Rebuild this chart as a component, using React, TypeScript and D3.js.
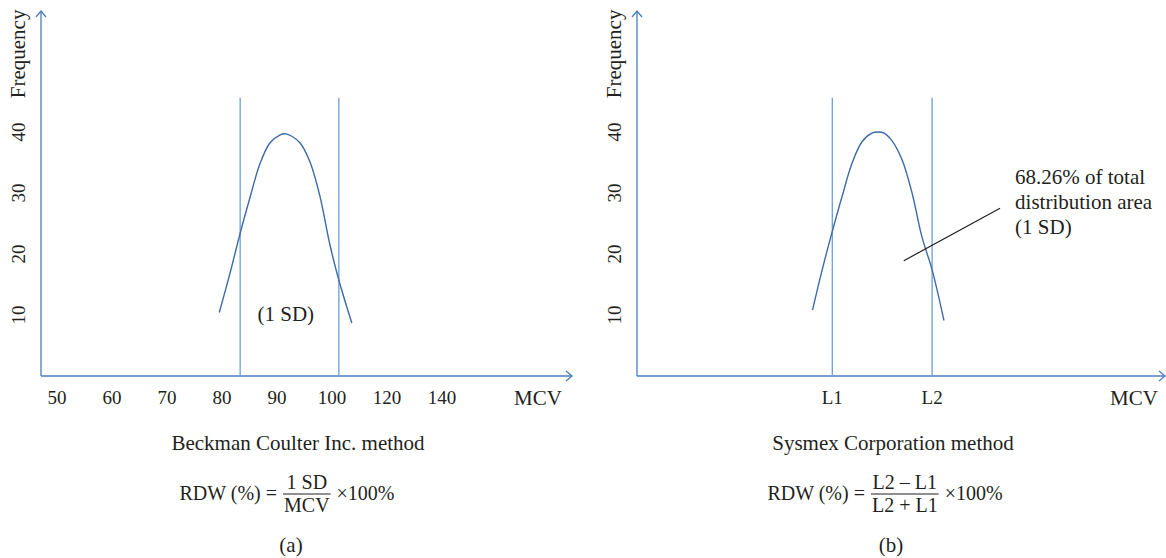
import React, { useEffect, useRef } from "react";
import * as d3 from "d3";

// MCV tick labels of the left panel (unevenly spaced values, evenly spaced on the axis)
const xTickValues = [50, 60, 70, 80, 90, 100, 120, 140];
const yTickValues = [10, 20, 30, 40];

// (a) Beckman Coulter curve, MCV vs frequency
const curveAMcv = [79.5, 81.5, 83.3, 85.1, 86.9, 88.7, 90.5, 91.6, 92.7, 94.2, 96.0, 97.8, 99.6, 102.5, 107.2];
const curveAFreq = [10.4, 17.0, 23.4, 29.3, 34.8, 38.2, 39.5, 39.7, 39.3, 38.2, 35.1, 29.5, 21.6, 15.7, 8.7];
const sdLinesA = [83.3, 102.5];

// (b) Sysmex curve
const curveBMcv = [79.0, 80.7, 82.6, 84.4, 86.2, 88.0, 89.8, 90.9, 92.0, 93.5, 95.3, 97.1, 98.9, 101.5, 105.8];
const curveBFreq = [10.8, 17.2, 23.7, 29.5, 34.9, 38.4, 39.8, 40.0, 39.8, 38.5, 35.4, 30.0, 22.8, 17.4, 9.1];
const limitLinesB = [82.6, 101.5];
const limitLabelsB = ["L1", "L2"];
const pointerB = [[95.6, 18.9], [126.2, 27.5]];
const pointerText = ["68.26% of total", "distribution area", "(1 SD)"];

const lineTop = 45.6;
const FONT = '"Liberation Serif", "Times New Roman", serif';
const INK = "#231f20";
const AXIS = "#4a7ebb";
const VLINE = "#6b9fd6";
const CURVE = "#3d6ba6";

function drawFormula(g: any, cx: number, y: number, num: string, den: string) {
    const f = g.append("g").style("font-family", FONT).style("font-size", "20px").attr("fill", INK);
    const lhs = f.append("text").attr("x", 0).attr("y", y).text("RDW (%) =");
    const lw = (lhs.node() as SVGTextElement).getComputedTextLength();
    const n = f.append("text").attr("y", y - 11).attr("text-anchor", "middle").text(num);
    const d = f.append("text").attr("y", y + 12).attr("text-anchor", "middle").text(den);
    const fw = Math.max((n.node() as SVGTextElement).getComputedTextLength(),
        (d.node() as SVGTextElement).getComputedTextLength()) + 2;
    const fx = lw + 6;
    n.attr("x", fx + fw / 2);
    d.attr("x", fx + fw / 2);
    f.append("line").attr("x1", fx).attr("x2", fx + fw).attr("y1", y - 6).attr("y2", y - 6)
        .attr("stroke", INK).attr("stroke-width", 1);
    const rhs = f.append("text").attr("x", fx + fw + 6).attr("y", y).text("\u00d7100%");
    const total = fx + fw + 6 + (rhs.node() as SVGTextElement).getComputedTextLength();
    f.attr("transform", `translate(${cx - total / 2},0)`);
}

function drawPanel(svg: any, ox: number, opts: any) {
    const g = svg.append("g").attr("transform", `translate(${ox},0)`);
    const axisLen = opts.axisLen;

    const x = d3.scaleLinear()
        .domain(xTickValues)
        .range(xTickValues.map((_, i) => 16 + i * 55));
    const y = d3.scaleLinear().domain([0, 40]).range([376, 132]);

    // axes with open arrow heads
    g.append("line").attr("x1", 0).attr("x2", 0).attr("y1", 376).attr("y2", 11)
        .attr("stroke", AXIS).attr("stroke-width", 1.3);
    g.append("path").attr("d", "M-5,17 L0,11 L5,17").attr("fill", "none")
        .attr("stroke", AXIS).attr("stroke-width", 1.3);
    g.append("line").attr("x1", 0).attr("x2", axisLen).attr("y1", 376).attr("y2", 376)
        .attr("stroke", AXIS).attr("stroke-width", 1.3);
    g.append("path").attr("d", `M${axisLen - 6},371 L${axisLen},376 L${axisLen - 6},381`)
        .attr("fill", "none").attr("stroke", AXIS).attr("stroke-width", 1.3);

    const ticks = g.append("g").style("font-family", FONT).style("font-size", "19px").attr("fill", INK);
    const txt = g.append("g").style("font-family", FONT).style("font-size", "21px").attr("fill", INK);

    // y ticks, rotated
    yTickValues.forEach(v => {
        ticks.append("text")
            .attr("transform", `translate(-23,${y(v)}) rotate(-90)`)
            .attr("text-anchor", "middle")
            .attr("dy", "0.35em")
            .text(v);
    });
    txt.append("text")
        .attr("transform", `translate(-23,${y(52.8)}) rotate(-90)`)
        .attr("text-anchor", "middle")
        .attr("dy", "0.35em")
        .text("Frequency");

    // x labels
    opts.xLabels.forEach((d: any) => {
        ticks.append("text").attr("x", x(d.v)).attr("y", 404).attr("text-anchor", "middle").text(d.label);
    });
    txt.append("text").attr("x", 497).attr("y", 405).attr("text-anchor", "middle").text("MCV");

    // vertical lines
    g.selectAll(".vline").data(opts.vlines).enter().append("line")
        .attr("x1", (d: number) => x(d)).attr("x2", (d: number) => x(d))
        .attr("y1", y(lineTop)).attr("y2", 376)
        .attr("stroke", VLINE).attr("stroke-width", 1.3);

    // the curve
    const pts = opts.mcv.map((m: number, i: number) => [x(m), y(opts.freq[i])]);
    g.append("path")
        .attr("d", d3.line().curve(d3.curveCatmullRom.alpha(0.5))(pts))
        .attr("fill", "none").attr("stroke", CURVE).attr("stroke-width", 1.4);

    return { g, x, y, txt };
}

export default function App() {
    const ref = useRef<SVGSVGElement>(null);

    useEffect(() => {
        const svg = d3.select(ref.current);
        svg.selectAll("*").remove();

        // panel (a)
        const a = drawPanel(svg, 41, {
            axisLen: 531,
            xLabels: xTickValues.map(v => ({ v, label: String(v) })),
            vlines: sdLinesA,
            mcv: curveAMcv,
            freq: curveAFreq
        });
        a.txt.append("text").attr("x", a.x(91.6)).attr("y", 321).attr("text-anchor", "middle").text("(1 SD)");

        // panel (b)
        const b = drawPanel(svg, 637, {
            axisLen: 528,
            xLabels: limitLinesB.map((v, i) => ({ v, label: limitLabelsB[i] })),
            vlines: limitLinesB,
            mcv: curveBMcv,
            freq: curveBFreq
        });
        b.g.append("line")
            .attr("x1", b.x(pointerB[0][0])).attr("y1", b.y(pointerB[0][1]))
            .attr("x2", b.x(pointerB[1][0])).attr("y2", b.y(pointerB[1][1]))
            .attr("stroke", INK).attr("stroke-width", 1.2);
        pointerText.forEach((t, i) => {
            b.txt.append("text").attr("x", b.x(pointerB[1][0]) + 15).attr("y", 184 + i * 25).text(t);
        });

        // captions
        const cap = svg.append("g").style("font-family", FONT).style("font-size", "21px").attr("fill", INK);
        cap.append("text").attr("x", 298).attr("y", 450).attr("text-anchor", "middle").text("Beckman Coulter Inc. method");
        cap.append("text").attr("x", 893).attr("y", 450).attr("text-anchor", "middle").text("Sysmex Corporation method");
        cap.append("text").attr("x", 291).attr("y", 552).attr("text-anchor", "middle").text("(a)");
        cap.append("text").attr("x", 891).attr("y", 552).attr("text-anchor", "middle").text("(b)");
        drawFormula(svg, 287, 500, "1 SD", "MCV");
        drawFormula(svg, 885, 500, "L2 \u2013 L1", "L2 + L1");
    }, []);

    return (
        <svg ref={ref} width={1166} height={558}
             style={{ position: "absolute", left: 0, top: 0, background: "#fff" }} />
    );
}
